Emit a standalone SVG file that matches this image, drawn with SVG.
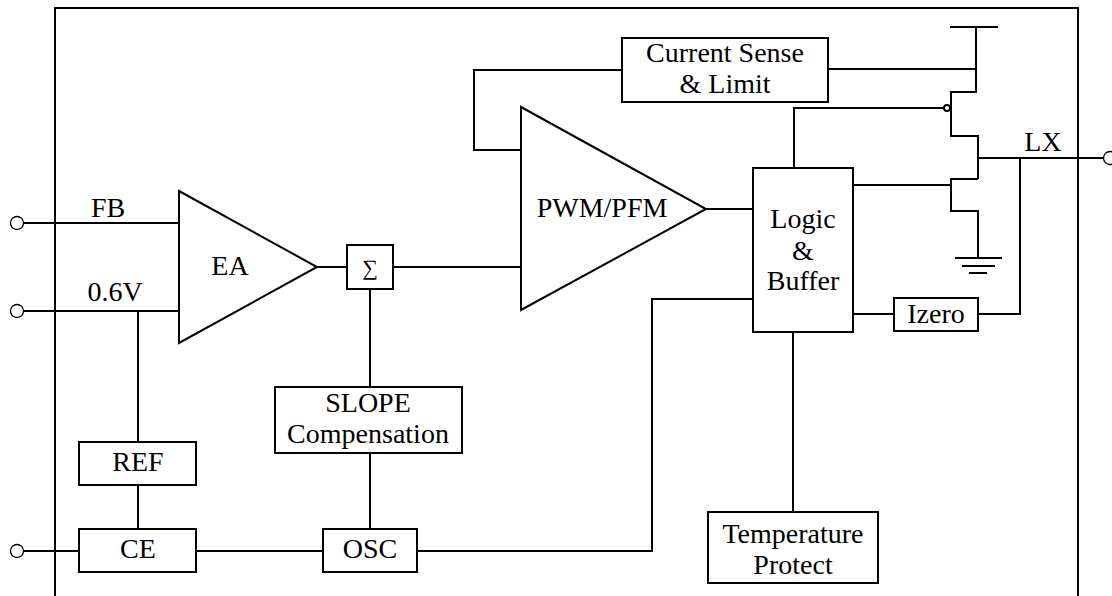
<svg xmlns="http://www.w3.org/2000/svg" width="1112" height="596" viewBox="0 0 1112 596">
<style>
.b{fill:#fff;stroke:#000;stroke-width:2}
.w{fill:none;stroke:#000;stroke-width:2}
.pin{fill:#fff;stroke:#000;stroke-width:1.3}
text{font-family:"Liberation Serif","Times New Roman",serif;font-size:28px;fill:#000;text-anchor:middle}
</style>
<rect width="1112" height="596" fill="#fff"/>
<g id="frame"><path class="w" d="M55,600 V8 H1078 V600"/></g>
<g id="connectors" class="w">
<path d="M24,223 H179"/>
<path d="M24,311 H179"/>
<path d="M138,311 V442"/>
<path d="M138,485 V529"/>
<path d="M24,551 H79"/>
<path d="M196,551 H323"/>
<path d="M317,267 H347"/>
<path d="M370,289 V387"/>
<path d="M370,453 V529"/>
<path d="M393,267 H521"/>
<path d="M622,70 H474 V150 H521"/>
<path d="M706,209 H753"/>
<path d="M417,551 H652 V299 H753"/>
<path d="M793,332 V512"/>
<path d="M853,314 H894"/>
<path d="M978,314 H1020 V158"/>
<path d="M828,69 H976"/>
<path d="M794,168 V108 H944"/>
<path d="M853,185 H951"/>
<path d="M978,158 H1104"/>
</g>
<g id="pins">
<circle class="pin" cx="17" cy="223" r="6.5"/>
<circle class="pin" cx="17" cy="311" r="6.5"/>
<circle class="pin" cx="17" cy="551" r="6.5"/>
<circle class="pin" cx="1110" cy="158" r="6.5"/>
<text x="108" y="217">FB</text>
<text x="115" y="301">0.6V</text>
<text x="1043" y="151">LX</text>
</g>
<g id="ea"><path class="b" d="M179,191 L317,267 L179,343 Z"/><text x="230" y="275">EA</text></g>
<g id="sum"><rect class="b" x="347" y="245" width="46" height="44"/><text x="370" y="275" style="font-size:22px">∑</text></g>
<g id="pwm"><path class="b" d="M521,107 L706,209 L521,310 Z"/><text x="602" y="217">PWM/PFM</text></g>
<g id="current-sense"><rect class="b" x="622" y="38" width="206" height="64"/><text x="725" y="62">Current Sense</text><text x="725" y="93">&amp; Limit</text></g>
<g id="logic"><rect class="b" x="753" y="168" width="100" height="164"/><text x="803" y="228">Logic</text><text x="803" y="260">&amp;</text><text x="803" y="290">Buffer</text></g>
<g id="izero"><rect class="b" x="894" y="298" width="84" height="33"/><text x="936" y="323">Izero</text></g>
<g id="temp"><rect class="b" x="708" y="512" width="170" height="71"/><text x="793" y="543">Temperature</text><text x="793" y="574">Protect</text></g>
<g id="ref"><rect class="b" x="79" y="442" width="117" height="43"/><text x="138" y="471">REF</text></g>
<g id="ce"><rect class="b" x="79" y="529" width="117" height="43"/><text x="138" y="558">CE</text></g>
<g id="slope"><rect class="b" x="275" y="387" width="187" height="66"/><text x="368" y="412">SLOPE</text><text x="368" y="443">Compensation</text></g>
<g id="osc"><rect class="b" x="323" y="529" width="94" height="43"/><text x="370" y="558">OSC</text></g>
<g id="pmos" class="w">
<path d="M950,27 H998"/>
<path d="M976,27 V92 H951 V136 H978 V179"/>
<circle cx="947" cy="108" r="3" style="fill:#fff;stroke:#000;stroke-width:2"/>
</g>
<g id="nmos" class="w">
<path d="M978,179 H951 V211 H978 V258"/>
<path d="M955,258 H1002 M962,266 H995 M969,273 H987"/>
</g>
</svg>
